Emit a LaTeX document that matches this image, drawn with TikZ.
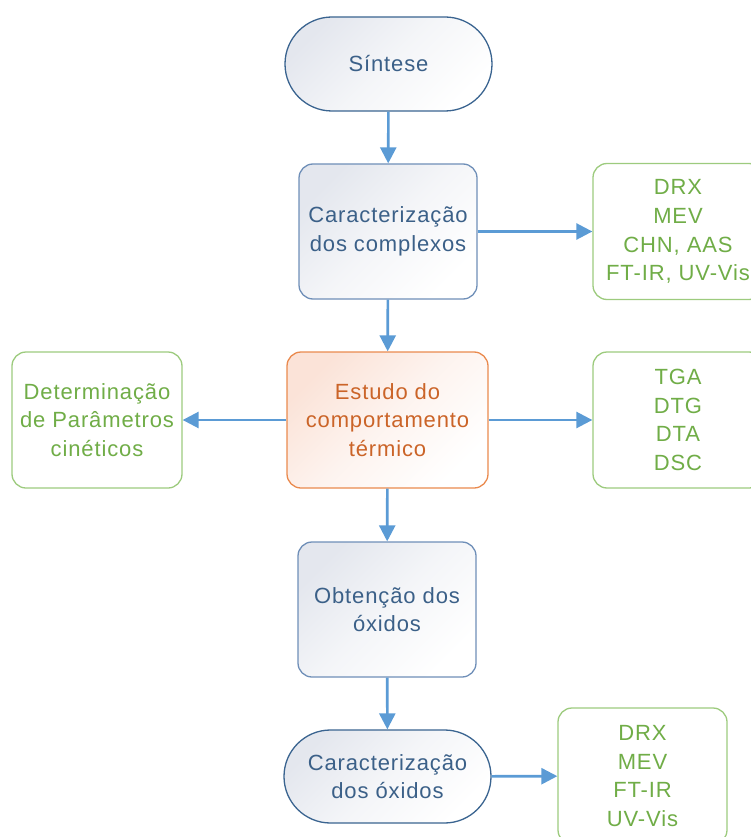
\documentclass[tikz,border=0pt]{standalone}
\usepackage{fontspec}
\setmainfont[LetterSpace=4]{Liberation Sans}
\usetikzlibrary{arrows.meta}
\definecolor{arrowblue}{HTML}{5B9BD5}
\definecolor{darkblue}{HTML}{3A6490}
\definecolor{boxblue}{HTML}{6F8FB8}
\definecolor{txtblue}{HTML}{3B6088}
\definecolor{fillblue}{HTML}{E4E7EE}
\definecolor{ogreen}{HTML}{70AD47}
\definecolor{bgreen}{HTML}{9DCB7E}
\definecolor{orangeb}{HTML}{EA8A4E}
\definecolor{orangetxt}{HTML}{CB6428}
\definecolor{fillorange}{HTML}{FBE3D8}
\tikzset{
  base/.style={align=center, font=\fontsize{22}{28.7}\selectfont, inner sep=0pt, line width=1.3pt},
  terminal/.style={base, draw=darkblue, minimum width=207pt, minimum height=94pt, rounded corners=47pt,
    top color=fillblue, bottom color=white, middle color=white!60!fillblue, shading angle=45, text=txtblue},
  process/.style={base, draw=boxblue, minimum width=178pt, minimum height=135pt, rounded corners=14pt,
    top color=fillblue, bottom color=white, middle color=white!60!fillblue, shading angle=45, text=txtblue},
  hot/.style={base, draw=orangeb, minimum width=201pt, minimum height=136pt, rounded corners=14pt,
    top color=fillorange, bottom color=white, middle color=white!60!fillorange, shading angle=45, text=orangetxt},
  tech/.style={base, draw=bgreen, fill=white, minimum width=170pt, minimum height=136pt, rounded corners=14pt, text=ogreen},
  flow/.style={draw=arrowblue, line width=2.6pt, -{Triangle[length=16pt,width=16pt]}}
}
\begin{document}
\begin{tikzpicture}[x=1pt,y=-1pt]
\useasboundingbox (0,0) rectangle (751,837);
\node[terminal] (sint) at (388.5,64) {Síntese};
\node[process] (comp) at (388,231.5) {Caracterização\\dos complexos};
\node[tech] (g1) at (678,231.5) {DRX\\MEV\\CHN, AAS\\FT-IR, UV-Vis};
\node[hot] (est) at (387.5,420) {Estudo do\\comportamento\\térmico};
\node[tech] (gl) at (97,420) {Determinação\\de Parâmetros\\cinéticos};
\node[tech] (g2) at (678,420) {TGA\\DTG\\DTA\\DSC};
\node[process] (obt) at (387,609.5) {Obtenção dos\\óxidos};
\node[terminal, minimum height=93pt, rounded corners=46.5pt] (cox) at (387.5,776.5) {Caracterização\\dos óxidos};
\node[tech, minimum width=169pt] (g3) at (642.5,776) {DRX\\MEV\\FT-IR\\UV-Vis};
\draw[flow] (sint) -- (comp);
\draw[flow] (comp) -- (g1);
\draw[flow] (comp) -- (est);
\draw[flow] (est) -- (gl);
\draw[flow] (est) -- (g2);
\draw[flow] (est) -- (obt);
\draw[flow] (obt) -- (cox);
\draw[flow] (cox) -- (g3);
\end{tikzpicture}
\end{document}
